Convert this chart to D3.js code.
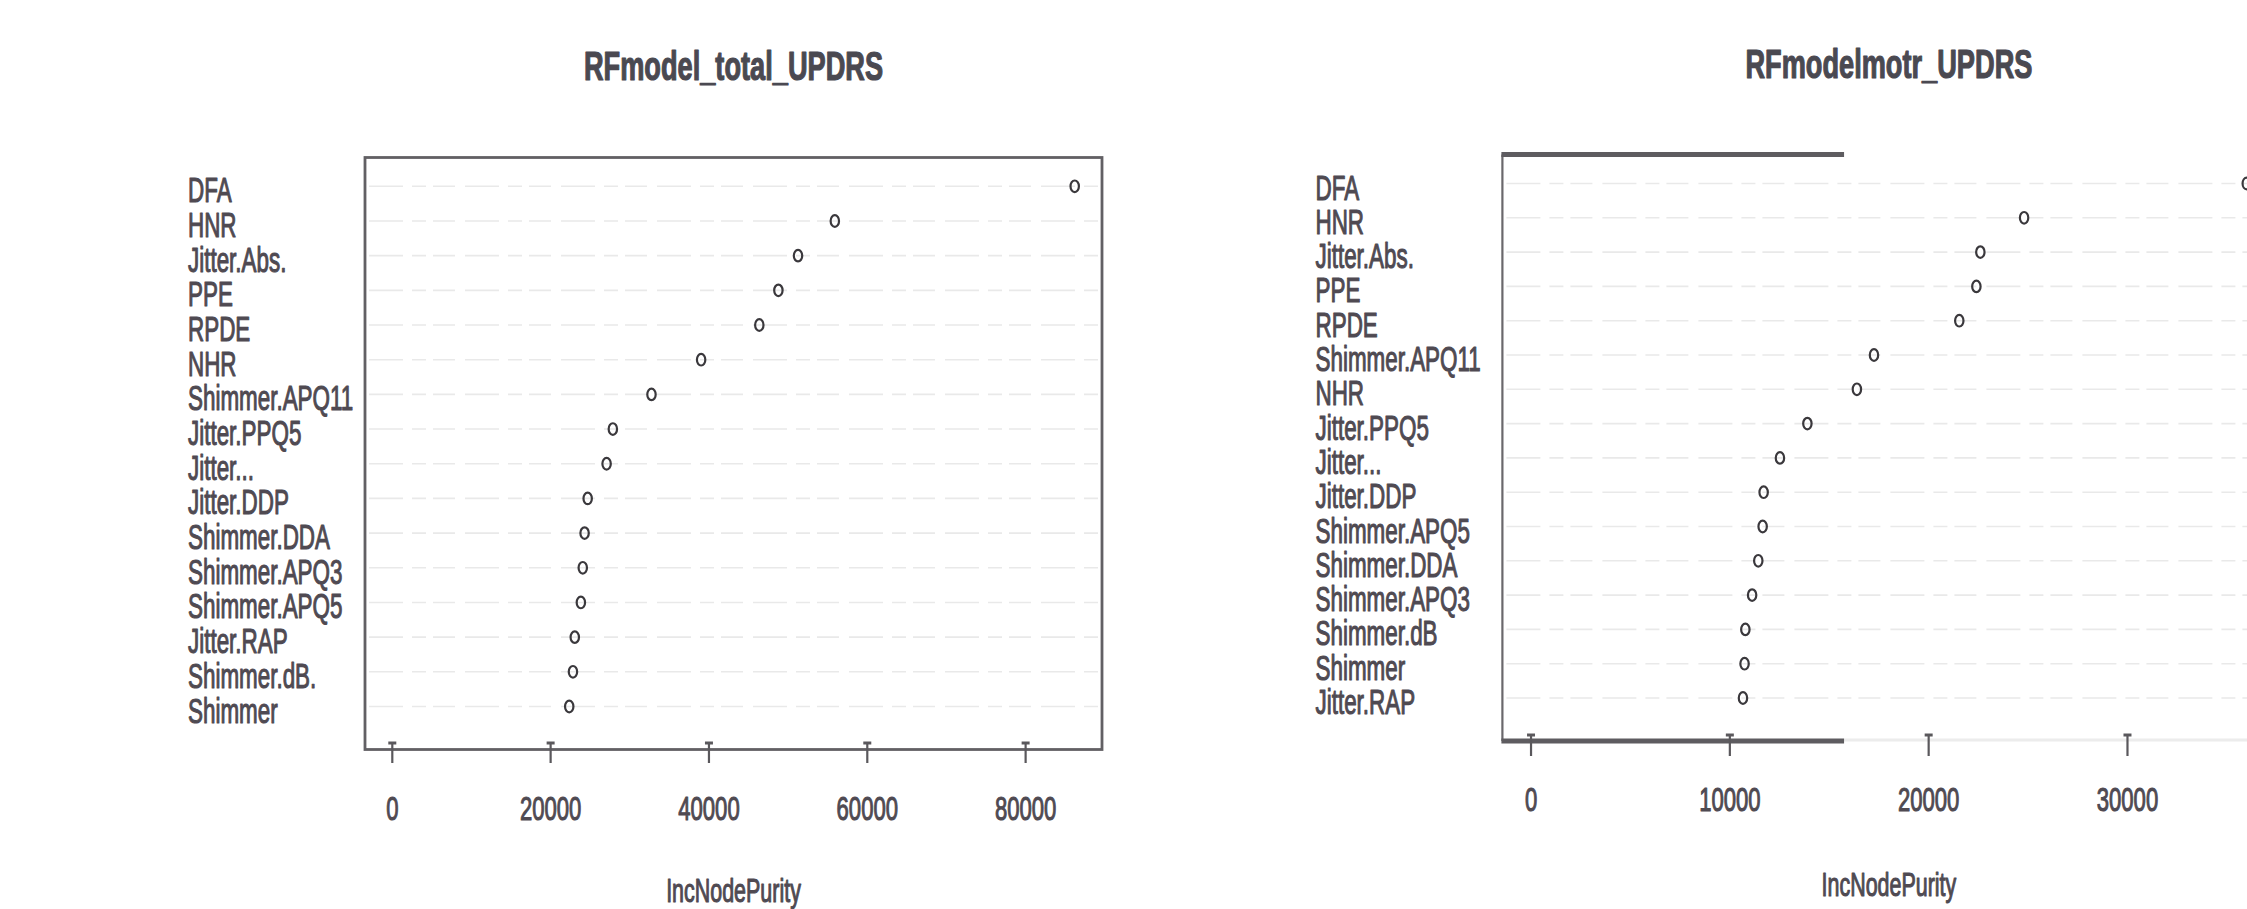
<!DOCTYPE html>
<html>
<head>
<meta charset="utf-8">
<script src="https://cdn.jsdelivr.net/npm/d3@7"></script>
<style>
  html, body { margin: 0; padding: 0; background: #fff; overflow: hidden; }
  svg { display: block; }
</style>
</head>
<body>
<svg id="chart" width="2247" height="909"></svg>
<script>
// ---------------- data ----------------
const leftTitle = "RFmodel_total_UPDRS";
const leftLabels = ["DFA", "HNR", "Jitter.Abs.", "PPE", "RPDE", "NHR", "Shimmer.APQ11",
  "Jitter.PPQ5", "Jitter...", "Jitter.DDP", "Shimmer.DDA", "Shimmer.APQ3", "Shimmer.APQ5",
  "Jitter.RAP", "Shimmer.dB.", "Shimmer"];
const leftValues = [86200, 55900, 51250, 48770, 46360, 39010, 32740,
  27860, 27070, 24680, 24290, 24060, 23820, 23050, 22820, 22350];
const leftTicks = [0, 20000, 40000, 60000, 80000];

const rightTitle = "RFmodelmotr_UPDRS";
const rightLabels = ["DFA", "HNR", "Jitter.Abs.", "PPE", "RPDE", "Shimmer.APQ11", "NHR",
  "Jitter.PPQ5", "Jitter...", "Jitter.DDP", "Shimmer.APQ5", "Shimmer.DDA", "Shimmer.APQ3",
  "Shimmer.dB", "Shimmer", "Jitter.RAP"];
const rightValues = [36000, 24800, 22600, 22400, 21540, 17250, 16390,
  13900, 12520, 11700, 11650, 11430, 11120, 10780, 10740, 10660];
const rightTicks = [0, 10000, 20000, 30000];

const xAxisTitle = "IncNodePurity";

// ---------------- layout ----------------
const layouts = [
  { x0: 365, x1: 1102, y0: 157.5, y1: 749.5, rowTop: 186.3, rowBot: 706.5,
    labelX: 188, titleY: 80, tickLabelY: 820, axisTitleY: 902, tickTop: 742, tickBot: 763,
    partial: false },
  { x0: 1502.4, x1: 2275.4, y0: 154.5, y1: 741, rowTop: 183.5, rowBot: 698,
    labelX: 1315.5, titleY: 78, tickLabelY: 811, axisTitleY: 896, tickTop: 734, tickBot: 756,
    partial: true, darkFrac: 0.442 }
];

const SX = 0.65;          // horizontal squeeze of the original picture
const FONT = "'Liberation Sans', Arial, Helvetica, sans-serif";
const textColor = "#4f4a52";
const svg = d3.select("#chart");

function squeezedText(parent, x, y, str, opts) {
  const g = parent.append("g").attr("transform", `translate(${x},${y}) scale(${opts.sx || SX},1)`);
  const fill = opts.fill || textColor;
  g.append("text")
    .attr("x", 0).attr("y", 0)
    .attr("text-anchor", opts.anchor || "start")
    .attr("font-family", FONT)
    .attr("font-size", opts.size)
    .attr("font-weight", opts.weight || "normal")
    .attr("fill", fill)
    .attr("stroke", fill)
    .attr("stroke-width", opts.stroke == null ? 1.1 : opts.stroke)
    .attr("stroke-linejoin", "round")
    .text(str);
  return g;
}

function drawPanel(L, title, labels, values, ticks) {
  const g = svg.append("g");
  const vmax = d3.max(values);
  const x = d3.scaleLinear().domain([-0.04 * vmax, 1.04 * vmax]).range([L.x0, L.x1]);
  const y = d3.scalePoint().domain(labels).range([L.rowTop, L.rowBot]);

  // dotted row guide lines
  g.selectAll("line.grid").data(labels).enter().append("line")
    .attr("class", "grid")
    .attr("x1", L.x0 + 4).attr("x2", L.x1 - 3)
    .attr("y1", d => y(d)).attr("y2", d => y(d))
    .attr("stroke", "#e9e9e9").attr("stroke-width", 1.6)
    .attr("stroke-dasharray", "34,9,14,7,22,10");

  // frame
  if (!L.partial) {
    g.append("rect")
      .attr("x", L.x0).attr("y", L.y0)
      .attr("width", L.x1 - L.x0).attr("height", L.y1 - L.y0)
      .attr("fill", "none").attr("stroke", "#626064").attr("stroke-width", 2.8);
  } else {
    const xd = L.x0 + L.darkFrac * (L.x1 - L.x0);
    g.append("line").attr("x1", xd).attr("x2", L.x1).attr("y1", L.y1 - 1).attr("y2", L.y1 - 1)
      .attr("stroke", "#ececec").attr("stroke-width", 3);
    g.append("line").attr("x1", L.x0).attr("x2", L.x0).attr("y1", L.y0).attr("y2", L.y1)
      .attr("stroke", "#6a686c").attr("stroke-width", 2.2);
    [L.y0, L.y1].forEach(yy => {
      g.append("line").attr("x1", L.x0 - 1).attr("x2", xd).attr("y1", yy).attr("y2", yy)
        .attr("stroke", "#5e5c60").attr("stroke-width", 4.8);
    });
  }

  // ticks ("T" shaped as in the picture)
  const tk = g.selectAll("g.tick").data(ticks).enter().append("g").attr("class", "tick");
  tk.append("line")
    .attr("x1", d => x(d)).attr("x2", d => x(d))
    .attr("y1", L.tickTop).attr("y2", L.tickBot)
    .attr("stroke", "#5a585c").attr("stroke-width", 2.2);
  tk.append("line")
    .attr("x1", d => x(d) - 4).attr("x2", d => x(d) + 4)
    .attr("y1", L.tickTop + 1).attr("y2", L.tickTop + 1)
    .attr("stroke", "#5a585c").attr("stroke-width", 3);
  ticks.forEach(t => squeezedText(g, x(t), L.tickLabelY, String(t), { size: 34, anchor: "middle" }));

  // row labels
  labels.forEach(lab => squeezedText(g, L.labelX, y(lab) + 16, lab, { size: 34.5 }));

  // points
  g.selectAll("ellipse.pt").data(values).enter().append("ellipse")
    .attr("class", "pt")
    .attr("cx", d => x(d))
    .attr("cy", (d, i) => y(labels[i]))
    .attr("rx", 4.2).attr("ry", 5.8)
    .attr("fill", "none").attr("stroke", "#3a383c").attr("stroke-width", 2.2);

  // titles
  const cx = (L.x0 + L.x1) / 2;
  squeezedText(g, cx, L.titleY, title, { size: 40, weight: "bold", anchor: "middle", fill: "#4a4951", sx: 0.68, stroke: 1.2 });
  squeezedText(g, cx, L.axisTitleY, xAxisTitle, { size: 33, anchor: "middle" });
}

drawPanel(layouts[0], leftTitle, leftLabels, leftValues, leftTicks);
drawPanel(layouts[1], rightTitle, rightLabels, rightValues, rightTicks);
</script>
</body>
</html>
